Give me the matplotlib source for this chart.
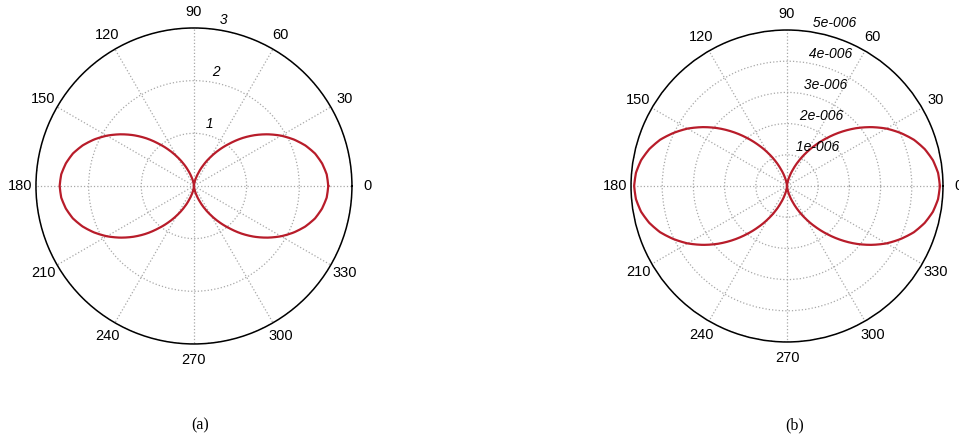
import numpy as np
import matplotlib.pyplot as plt

# angles of the samples (degrees), every 5 degrees round the circle
angleDeg = list(range(0, 365, 5))

# (a) radius
radiusA = [2.55, 2.53, 2.47, 2.38, 2.25, 2.09, 1.91, 1.71, 1.50, 1.28, 1.05, 0.84, 0.64, 0.46, 0.30, 0.17, 0.08, 0.02, 0.00,
           0.02, 0.08, 0.17, 0.30, 0.46, 0.64, 0.84, 1.05, 1.28, 1.50, 1.71, 1.91, 2.09, 2.25, 2.38, 2.47, 2.53, 2.55,
           2.53, 2.47, 2.38, 2.25, 2.09, 1.91, 1.71, 1.50, 1.28, 1.05, 0.84, 0.64, 0.46, 0.30, 0.17, 0.08, 0.02, 0.00,
           0.02, 0.08, 0.17, 0.30, 0.46, 0.64, 0.84, 1.05, 1.28, 1.50, 1.71, 1.91, 2.09, 2.25, 2.38, 2.47, 2.53, 2.55]

# (b) radius, in units of 1e-6
radiusB = [4.90, 4.86, 4.75, 4.57, 4.33, 4.02, 3.68, 3.29, 2.88, 2.45, 2.02, 1.61, 1.23, 0.88, 0.57, 0.33, 0.15, 0.04, 0.00,
           0.04, 0.15, 0.33, 0.57, 0.88, 1.23, 1.61, 2.02, 2.45, 2.88, 3.29, 3.68, 4.02, 4.33, 4.57, 4.75, 4.86, 4.90,
           4.86, 4.75, 4.57, 4.33, 4.02, 3.68, 3.29, 2.88, 2.45, 2.02, 1.61, 1.23, 0.88, 0.57, 0.33, 0.15, 0.04, 0.00,
           0.04, 0.15, 0.33, 0.57, 0.88, 1.23, 1.61, 2.02, 2.45, 2.88, 3.29, 3.68, 4.02, 4.33, 4.57, 4.75, 4.86, 4.90]
unitB = 1e-6

ringsA = [1, 2, 3]
ringLabelsA = ['1', '2', '3']
ringsB = [1e-6, 2e-6, 3e-6, 4e-6, 5e-6]
ringLabelsB = ['1e-006', '2e-006', '3e-006', '4e-006', '5e-006']

spokeDeg = list(range(0, 360, 30))
captions = ['(a)', '(b)']

sansFont = ['Liberation Sans', 'DejaVu Sans']
gridColor = '#a8a8a8'
curveColor = '#b81c2a'


def polarPanel(fig, rect, radius, rings, ringLabels):
    ax = fig.add_axes(rect, projection='polar')
    rmax = rings[-1]
    ax.set_ylim(0, rmax)
    ax.set_thetagrids(spokeDeg, labels=[])
    ax.set_rgrids(rings, labels=[])
    ax.grid(True, color=gridColor, linestyle=':', linewidth=0.9)
    ax.spines['polar'].set_color('black')
    ax.spines['polar'].set_linewidth(1.1)

    line, = ax.plot(np.deg2rad(angleDeg), radius, color=curveColor, linewidth=1.6)
    # let the polar transform bend each segment instead of straight chords
    line.get_path()._interpolation_steps = 10

    # angle labels outside the circle
    for deg in spokeDeg:
        ax.text(np.deg2rad(deg), 1.1 * rmax, str(deg), ha='center', va='center',
                fontsize=10.5, family=sansFont, clip_on=False)

    # ring labels along the 82 degree line, MATLAB style
    rinc = rings[1] - rings[0]
    for r, lab in zip(rings, ringLabels):
        ax.text(np.deg2rad(82), r + rinc / 20, ' ' + lab, ha='left', va='bottom',
                fontsize=10, style='italic', family=sansFont, clip_on=False)
    return ax


fig = plt.figure(figsize=(9.59, 4.41), dpi=100)

axA = polarPanel(fig, [0.0375, 0.22, 0.3295, 0.7166], radiusA, ringsA, ringLabelsA)
axB = polarPanel(fig, [0.658, 0.2245, 0.3253, 0.7075], np.array(radiusB) * unitB, ringsB, ringLabelsB)

fig.text(200 / 959, 1 - 425 / 441, captions[0], ha='center', va='center', fontsize=11.5, family='Liberation Serif')
fig.text(795 / 959, 1 - 425 / 441, captions[1], ha='center', va='center', fontsize=11.5, family='Liberation Serif')

fig.savefig('out.png', dpi=100)
